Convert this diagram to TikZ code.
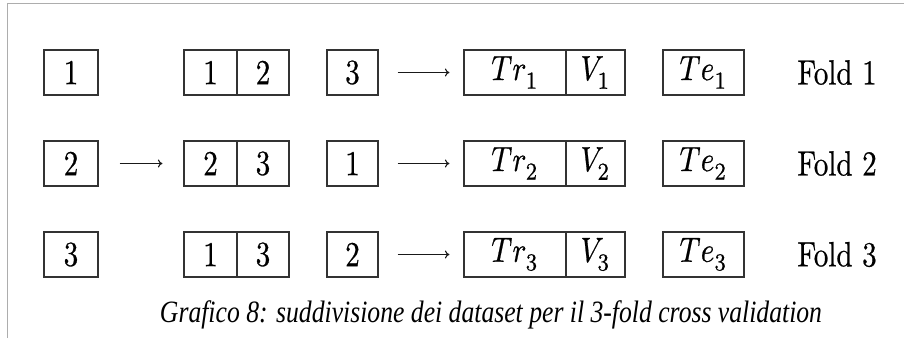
\documentclass[tikz,border=0pt]{standalone}
\usepackage{graphicx}
\usepackage{fontspec}
\usepackage{unicode-math}
\setmainfont{Latin Modern Roman}[FakeBold=0.7]
\setmathfont{Latin Modern Math}[FakeBold=0.7]
\newfontfamily\capfont{Liberation Serif}
\usetikzlibrary{arrows.meta}
\tikzset{
  cell/.style={draw=black!80, line width=1.2pt, rectangle, minimum height=45pt, inner sep=0pt,
     font=\fontsize{10}{12}\selectfont},
  foldlbl/.style={inner sep=0pt, font=\fontsize{10}{12}\selectfont},
  arr/.style={draw=black!90, line width=1.1pt, -{To[length=4.5pt,width=8pt]}},
  frame/.style={draw=black!32, line width=1.3pt}
}
\newcommand{\nx}[1]{\scalebox{2.9}[3.5]{#1}}
\begin{document}
\begin{tikzpicture}[x=1pt,y=-1pt]
\useasboundingbox (0,0) rectangle (904,338);
\coordinate (fa) at (7.5,3.5);
\coordinate (fb) at (904,3.5);
\coordinate (fc) at (7.5,338);
\draw[frame] (fc) -- (fa) -- (fb);
% rows
\foreach \r/\y/\a/\bl/\br/\c in {1/72.5/1/1/2/3, 2/163.5/2/2/3/1, 3/254.5/3/1/3/2}{
  \node[cell, minimum width=54pt] (A\r) at (71,\y) {\nx{$\a$}};
  \node[cell, minimum width=53pt] (BL\r) at (210.5,\y) {\nx{$\bl$}};
  \node[cell, minimum width=52pt] (BR\r) at (263,\y) {\nx{$\br$}};
  \node[cell, minimum width=51pt] (C\r) at (352.5,\y) {\nx{$\c$}};
  \node[cell, minimum width=102pt] (DL\r) at (515,\y) {\nx{$Tr_{\r}$}\hspace{26pt}};
  \node[cell, minimum width=59pt] (DR\r) at (595.5,\y) {\nx{$V_{\r}$}};
  \node[cell, minimum width=81pt] (E\r) at (703.5,\y) {\nx{$Te_{\r}$}};
  \node[foldlbl] (F\r) at (837,\y) {\nx{Fold \r}};
  \draw[arr, shorten <=19pt, shorten >=14pt] (C\r) -- (DL\r);
}
\draw[arr, shorten <=21pt, shorten >=21pt] (A2) -- (BL2);
\node[anchor=base, inner sep=0pt, font=\capfont\itshape\fontsize{31}{36}\selectfont] (cap) at (491,322)
  {\resizebox{662pt}{\height}{Grafico 8: suddivisione dei dataset per il 3-fold cross validation}};
\end{tikzpicture}
\end{document}
